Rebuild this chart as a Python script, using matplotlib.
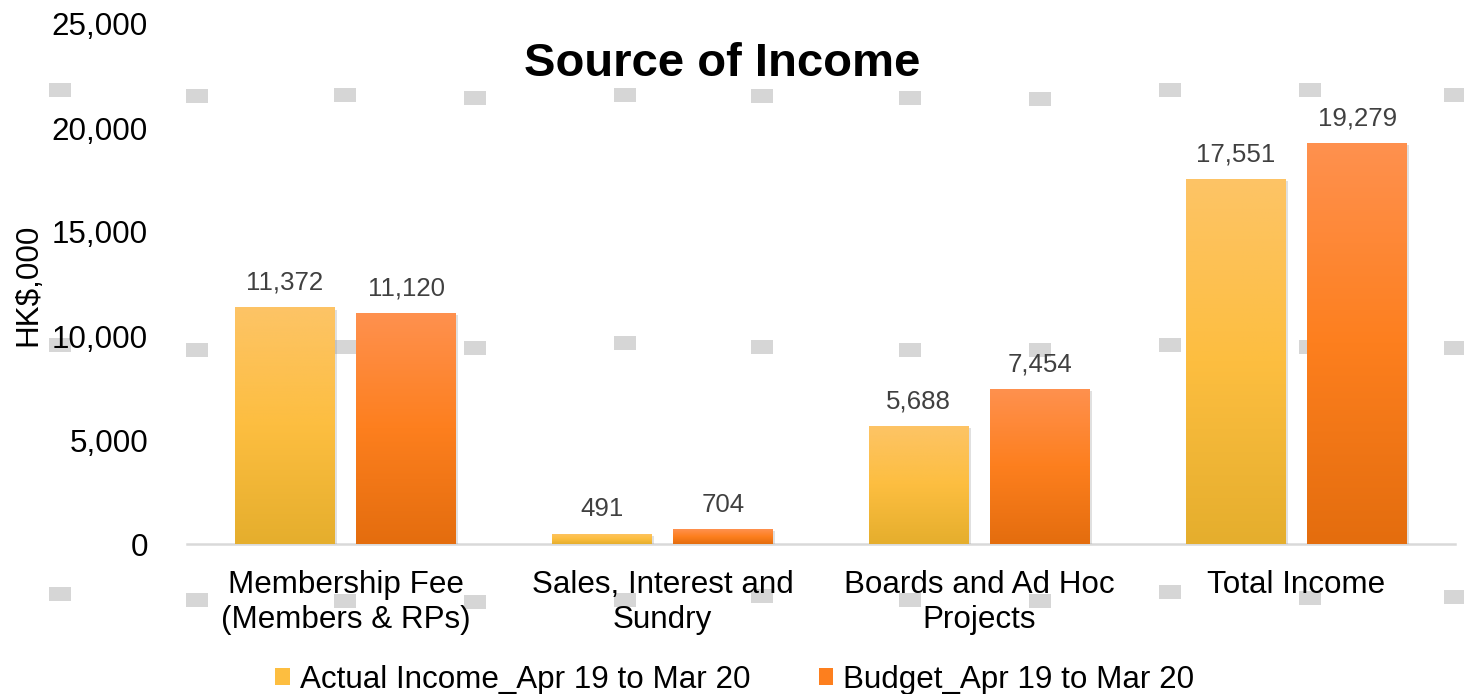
import matplotlib
matplotlib.use("Agg")
import matplotlib.pyplot as plt
import numpy as np
from matplotlib.colors import LinearSegmentedColormap
from matplotlib.patches import Rectangle
from matplotlib import patheffects
from matplotlib.ticker import FuncFormatter

plt.rcParams['font.family'] = ['Liberation Sans', 'DejaVu Sans']

# data
categories = ['Membership Fee\n(Members & RPs)', 'Sales, Interest and\nSundry',
              'Boards and Ad Hoc\nProjects', 'Total Income']
actual = [11372, 491, 5688, 17551]
budget = [11120, 704, 7454, 19279]
series_names = ['Actual Income_Apr 19 to Mar 20', 'Budget_Apr 19 to Mar 20']

# gradient stops bottom -> middle -> top
actual_colors = ['#E5AE2D', '#FDBE40', '#FDC466']
budget_colors = ['#E46D0E', '#FD7F1E', '#FF914F']

# stray gray handle squares seen in the picture (pixel centres)
handle_x = [60, 197, 345, 475, 625, 762, 910, 1040, 1170, 1310, 1455]
handle_rows = [[90, 96, 95, 98, 95, 96, 98, 99, 90, 90, 95],
               [345, 350, 347, 348, 343, 347, 350, 350, 345, 347, 348],
               [594, 600, 601, 602, 600, 596, 600, 601, 592, 598, 597]]

W, H = 1464, 694
fig = plt.figure(figsize=(W / 100, H / 100), dpi=100)
ax = fig.add_axes([187 / W, 150 / H, 1268 / W, 520 / H])
ax.set_facecolor('none')

for row in handle_rows:
    for hx, hy in zip(handle_x, row):
        fig.patches.append(Rectangle(((hx - 11) / W, 1 - (hy + 7) / H), 22 / W, 14 / H,
                                     transform=fig.transFigure, facecolor='#D6D6D6',
                                     edgecolor='none', zorder=-5))

x = np.arange(len(categories))
width = 0.315
offset = 0.192

shadow = [patheffects.SimplePatchShadow(offset=(1.5, -1.5), shadow_rgbFace='#999999', alpha=0.3),
          patheffects.Normal()]

for vals, cols, sign, name in [(actual, actual_colors, -1, series_names[0]),
                               (budget, budget_colors, 1, series_names[1])]:
    bars = ax.bar(x + sign * offset, vals, width, color=cols[1], edgecolor='none',
                  zorder=2, label=name)
    cmap = LinearSegmentedColormap.from_list('g', cols)
    grad = np.linspace(0, 1, 256).reshape(-1, 1)
    for b in bars:
        b.set_path_effects(shadow)
        bx, bw, bh = b.get_x(), b.get_width(), b.get_height()
        im = ax.imshow(grad, cmap=cmap, origin='lower', aspect='auto',
                       extent=[bx, bx + bw, 0, bh], zorder=3)
        im.set_clip_path(b)
        ax.annotate(f'{bh:,.0f}', (bx + bw / 2, bh), xytext=(0, 9),
                    textcoords='offset points', ha='center', va='bottom',
                    fontsize=18.6, color='#404040')

ax.set_xlim(-0.5, 3.5)
ax.set_ylim(0, 25000)
ax.set_yticks(np.arange(0, 25001, 5000))
ax.yaxis.set_major_formatter(FuncFormatter(lambda v, p: f'{v:,.0f}'))
ax.set_xticks(x)
ax.set_xticklabels(categories, linespacing=1.25)
ax.tick_params(axis='y', length=0, pad=28, labelsize=22.6, labelcolor='#000000')
ax.tick_params(axis='x', length=0, pad=18.5, labelsize=22.6, labelcolor='#000000')

for s in ['top', 'right', 'left']:
    ax.spines[s].set_visible(False)
ax.spines['bottom'].set_color('#D9D9D9')
ax.spines['bottom'].set_linewidth(1.8)
ax.spines['bottom'].set_zorder(1)

fig.text(722 / W, 1 - 64 / H, 'Source of Income', ha='center', va='center',
         fontsize=34, fontweight='bold')
fig.text(28 / W, 1 - 285 / H, 'HK$,000', ha='center', va='center',
         rotation=90, fontsize=22.6)

handles = [Rectangle((0, 0), 1, 1, facecolor=actual_colors[1], edgecolor='none'),
           Rectangle((0, 0), 1, 1, facecolor=budget_colors[1], edgecolor='none')]
fig.legend(handles, series_names, loc='center', bbox_to_anchor=(735 / W, 1 - 680 / H),
           ncol=2, frameon=False, fontsize=22.6, handlelength=0.45, handleheight=0.45,
           handletextpad=0.32, columnspacing=2.2, borderaxespad=0, borderpad=0)

fig.savefig('out.png', dpi=100)
